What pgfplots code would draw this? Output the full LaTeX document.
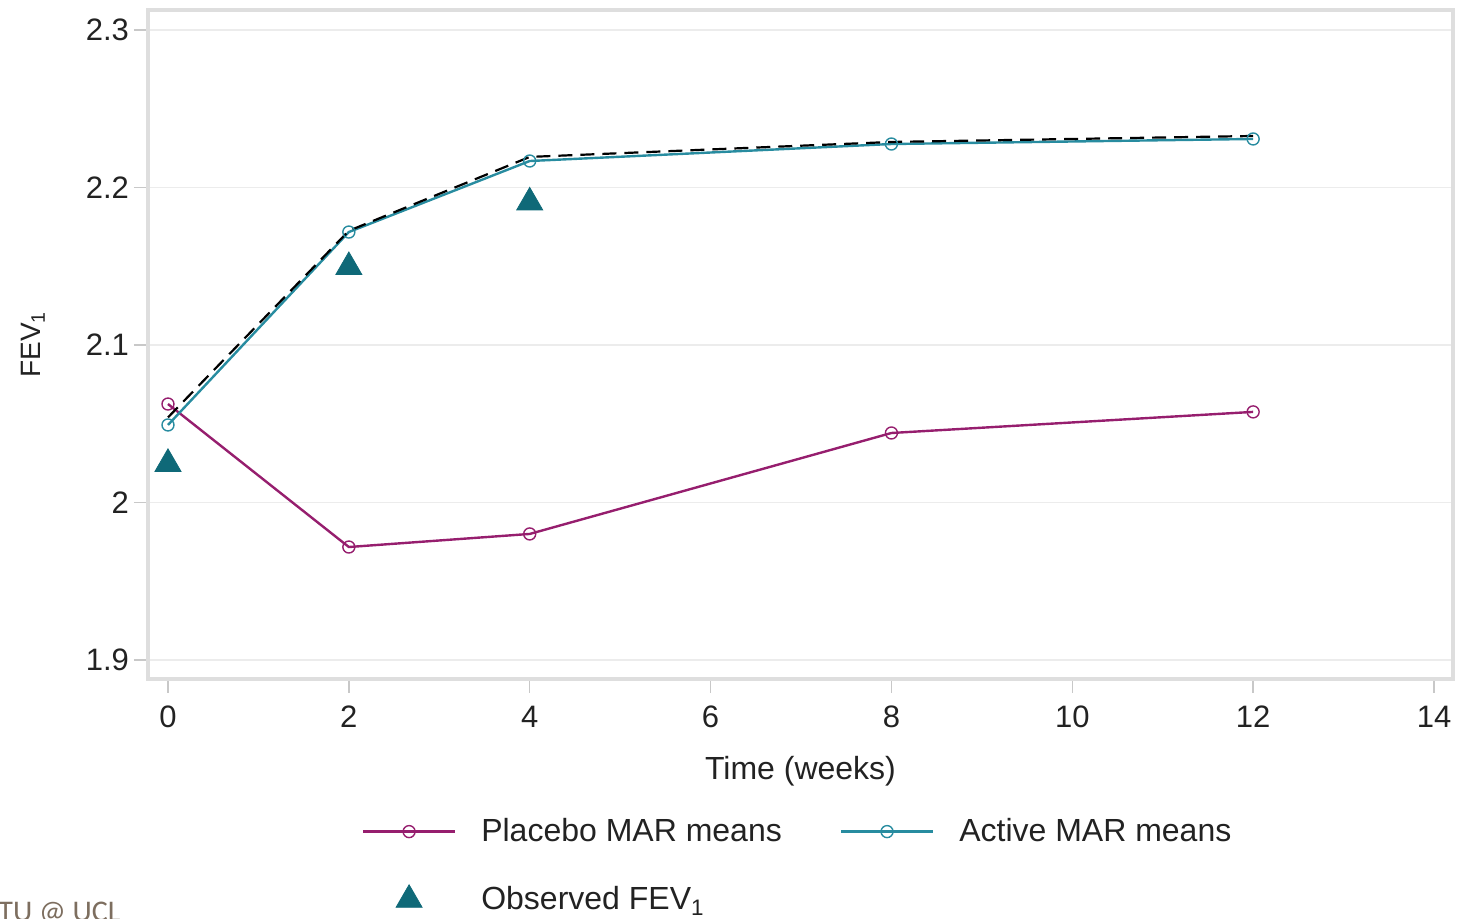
\documentclass[border=0pt]{standalone}
\usepackage{fontspec}
\setmainfont{Liberation Sans}
\newfontfamily\footfont{Carlito}
\usepackage{pgfplots}
\pgfplotsset{compat=1.18}
\definecolor{placebo}{RGB}{150,30,110}
\definecolor{active}{RGB}{40,140,160}
\definecolor{obs}{RGB}{15,105,120}
\definecolor{framegray}{RGB}{222,222,222}
\definecolor{gridgray}{RGB}{236,236,236}
\definecolor{tickgray}{RGB}{200,200,200}
\definecolor{footer}{RGB}{125,110,95}
\definecolor{txt}{RGB}{34,34,34}
\begin{document}
\begin{tikzpicture}[x=1pt,y=1pt]
\path[use as bounding box] (0,0) rectangle (731.5,459.5);
\begin{axis}[
  at={(74pt,120pt)}, anchor=south west,
  scale only axis, width=652.5pt, height=334.5pt,
  xmin=-0.221, xmax=14.21, ymin=1.8879, ymax=2.3127,
  xtick={0,2,4,6,8,10,12,14},
  ytick={1.9,2,2.1,2.2,2.3},
  yticklabels={1.9,2,2.1,2.2,2.3},
  tick align=outside, xtick pos=bottom, ytick pos=left,
  major tick length=7pt,
  tick style={tickgray, line width=0.7pt},
  axis line style={framegray, line width=1.6pt},
  ymajorgrids, grid style={gridgray, line width=0.7pt},
  ticklabel style={font=\fontsize{15.5}{18}\selectfont, text=txt},
  /pgf/number format/assume math mode=true,
  xticklabel style={yshift=-3pt},
  yticklabel style={xshift=1pt},
  xlabel={Time (weeks)},
  ylabel={FEV\textsubscript{1}},
  xlabel style={font=\fontsize{16}{19}\selectfont, text=txt, at={(axis description cs:0.5,-0.1375)}, anchor=center},
  ylabel style={font=\fontsize{14}{17}\selectfont, text=txt, at={(axis description cs:-0.088,0.5)}, anchor=center},
  legend style={at={(axis description cs:0.159,-0.196)}, anchor=north west, draw=none, fill=none,
    font=\fontsize{16}{19}\selectfont, text=txt, row sep=17pt,
    /tikz/every odd column/.append style={column sep=10.5pt},
    /tikz/every even column/.append style={column sep=27pt}},
  legend columns=2, legend cell align=left,
  legend image code/.code={\draw[mark repeat=2, mark phase=2, #1] plot coordinates {(0pt,0pt) (23pt,0pt) (46pt,0pt)};},
]
\addplot[placebo, line width=1.2pt, mark=o, mark size=3pt, mark options={fill=white, line width=0.7pt}]
  coordinates {(0,2.0625) (2,1.9717) (4,1.9800) (8,2.0441) (12,2.0575)};
\addlegendentry{Placebo MAR means}
\addplot[active, line width=1.2pt, mark=o, mark size=3pt, mark options={fill=white, line width=0.7pt}]
  coordinates {(0,2.0492) (2,2.1717) (4,2.2168) (8,2.2276) (12,2.2308)};
\addlegendentry{Active MAR means}
\addplot[obs, only marks, mark=triangle*, mark size=7.5pt]
  coordinates {(0,2.0245) (2,2.1495) (4,2.1905)};
\addlegendentry{Observed FEV\textsubscript{1}}
\addplot[black, line width=1.1pt, dash pattern=on 7pt off 4pt, forget plot]
  coordinates {(0,2.0540) (2,2.1725) (4,2.2194) (8,2.2289) (12,2.2327)};
\end{axis}
\node[anchor=north west, inner sep=0pt, text=footer, font=\footfont\fontsize{15}{18}\selectfont] at (-1pt,8.5pt) {TU @ UCL};
\end{tikzpicture}
\end{document}
